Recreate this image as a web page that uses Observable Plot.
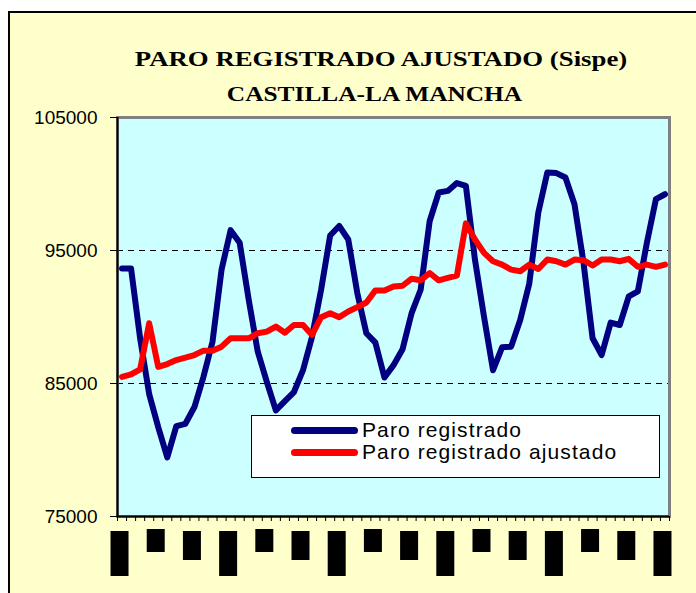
<!DOCTYPE html>
<html>
<head>
<meta charset="utf-8">
<script src="https://cdn.jsdelivr.net/npm/d3@7"></script>
<script src="https://cdn.jsdelivr.net/npm/@observablehq/plot@0.6"></script>
<style>
  html, body { margin: 0; padding: 0; background: #ffffff; }
  body { width: 696px; height: 593px; position: relative; overflow: hidden; }
  #bg { position: absolute; left: 8px; top: 11px; right: 0; bottom: 0; background: #FFFFCC;
        border-left: 2px solid #000; border-top: 2px solid #000; }
  #chart { position: absolute; left: 0; top: 0; }
  .title { position: absolute; left: 0; text-align: center;
           font-family: "Liberation Serif", "Times New Roman", serif; font-weight: bold;
           font-size: 21.5px; color: #000; white-space: nowrap; line-height: 1;
           transform-origin: 50% 50%; }
  #legend { position: absolute; left: 251px; top: 415px; width: 407px; height: 61px;
            background: #fff; border: 1px solid #000; box-sizing: content-box; }
  .lrow { position: absolute; left: 0; height: 21px; width: 100%; }
  .lsw { position: absolute; left: 39px; width: 67px; height: 7px; border-radius: 4px; }
  .ltx { position: absolute; left: 110px; font-family: "Liberation Sans", Arial, sans-serif;
         font-size: 21px; letter-spacing: 1.1px; color: #000; white-space: nowrap; line-height: 1; }
</style>
</head>
<body>
<div id="bg"></div>
<div id="chart"></div>
<div class="title" id="t1" style="top:49px; width:762px; transform:scaleX(1.246)"></div>
<div class="title" id="t2" style="top:84px; width:749px; transform:scaleX(1.18)"></div>
<div id="legend"></div>
<script>
// ---- data ----
const titleLines = ["PARO REGISTRADO AJUSTADO (Sispe)", "CASTILLA-LA MANCHA"];
const seriesNames = ["Paro registrado", "Paro registrado ajustado"];
const seriesColors = ["#000080", "#FF0000"];

// monthly periods (61 points)
const periods = d3.range(61);

const paroRegistrado = [
  93640, 93640, 88400, 84200, 81720, 79450, 81800, 81970, 83230, 85500,
  88140, 93560, 96530, 95580, 91300, 87390, 85120, 82980, 83680, 84360,
  86000, 88520, 92050, 96130, 96840, 95830, 91800, 88780, 88070, 85450,
  86380, 87570, 90290, 92050, 97220, 99360, 99480, 100070, 99860, 94320,
  90030, 86000, 87720, 87770, 89780, 92500, 97850, 100870, 100820, 100490,
  98480, 94070, 88400, 87140, 89580, 89400, 91550, 91920, 95580, 98860,
  99230
];

const paroAjustado = [
  85500, 85680, 86060, 89530, 86250, 86460, 86760, 86940, 87140, 87470,
  87470, 87770, 88400, 88400, 88400, 88780, 88900, 89280, 88820, 89400,
  89400, 88650, 89990, 90290, 89990, 90410, 90740, 91090, 92000, 92000,
  92300, 92350, 92880, 92760, 93310, 92760, 92940, 93110, 97040, 95830,
  94820, 94190, 93940, 93560, 93440, 93940, 93610, 94320, 94190, 93940,
  94320, 94270, 93870, 94320, 94320, 94190, 94370, 93770, 93940, 93770,
  93940
];

const yTicks = [75000, 85000, 95000, 105000];
const yGrid = [85000, 95000];

// category-axis labels (every 4th period) render in the reference as solid black blocks
// of three recurring lengths
const xLabelPeriods = [0, 4, 8, 12, 16, 20, 24, 28, 32, 36, 40, 44, 48, 52, 56, 60];
const xLabelKinds = ["long", "short", "mid", "long", "short", "mid", "long", "short",
                     "mid", "long", "short", "mid", "long", "short", "mid", "long"];

// ---- build ----
const rows = [];
periods.forEach((p, i) => {
  rows.push({period: p, value: paroRegistrado[i], serie: seriesNames[0]});
});
periods.forEach((p, i) => {
  rows.push({period: p, value: paroAjustado[i], serie: seriesNames[1]});
});
const boundaries = d3.range(periods.length + 1).map(j => j - 0.5);
const labelBlocks = xLabelPeriods.map((p, k) => ({period: p, kind: xLabelKinds[k]}));
const kindGeom = {long: {top: 414, bottom: -60}, short: {top: 412, bottom: -36}, mid: {top: 414, bottom: -44}};

const plot = Plot.plot({
  width: 696,
  height: 593,
  marginLeft: 117,
  marginRight: 27,
  marginTop: 117,
  marginBottom: 77,
  style: {background: "transparent", fontFamily: "'Liberation Sans', Arial, sans-serif", fontSize: "19px", color: "#000"},
  x: {domain: [-0.5, periods.length - 0.5]},
  y: {domain: [75000, 105000]},
  color: {domain: seriesNames, range: seriesColors},
  marks: [
    Plot.frame({fill: "#CCFFFF", stroke: null}),
    Plot.ruleY(yGrid, {stroke: "#000", strokeWidth: 1, strokeDasharray: "6,5"}),
    Plot.line(rows, {x: "period", y: "value", z: "serie", stroke: "serie", strokeWidth: 6,
                     strokeLinecap: "round", strokeLinejoin: "round"}),
    Plot.frame({stroke: "#808080", strokeWidth: 3}),
    Plot.axisY({ticks: yTicks, tickSize: 7, tickPadding: 13, tickFormat: d => String(d),
                fontSize: 19, label: null, stroke: "#000"}),
    Plot.axisX({ticks: boundaries, tickSize: 5, tickFormat: () => "", label: null}),
    Plot.ruleX([-0.5], {stroke: "#000", strokeWidth: 2}),
    Plot.ruleY([75000], {stroke: "#000", strokeWidth: 2}),
    ...Object.keys(kindGeom).map(kind =>
      Plot.ruleX(labelBlocks.filter(d => d.kind === kind), {
        x: "period", stroke: "#000", strokeWidth: 18, dx: -2.5,
        insetTop: kindGeom[kind].top, insetBottom: kindGeom[kind].bottom
      })
    )
  ]
});
document.getElementById("chart").appendChild(plot);

// titles
document.getElementById("t1").textContent = titleLines[0];
document.getElementById("t2").textContent = titleLines[1];

// legend
const legend = document.getElementById("legend");
seriesNames.forEach((name, i) => {
  const row = document.createElement("div");
  row.className = "lrow";
  row.style.top = (3 + i * 22.3) + "px";
  const sw = document.createElement("div");
  sw.className = "lsw";
  sw.style.background = seriesColors[i];
  sw.style.top = "7.5px";
  const tx = document.createElement("div");
  tx.className = "ltx";
  tx.style.top = "0px";
  tx.textContent = name;
  row.appendChild(sw);
  row.appendChild(tx);
  legend.appendChild(row);
});
</script>
</body>
</html>
